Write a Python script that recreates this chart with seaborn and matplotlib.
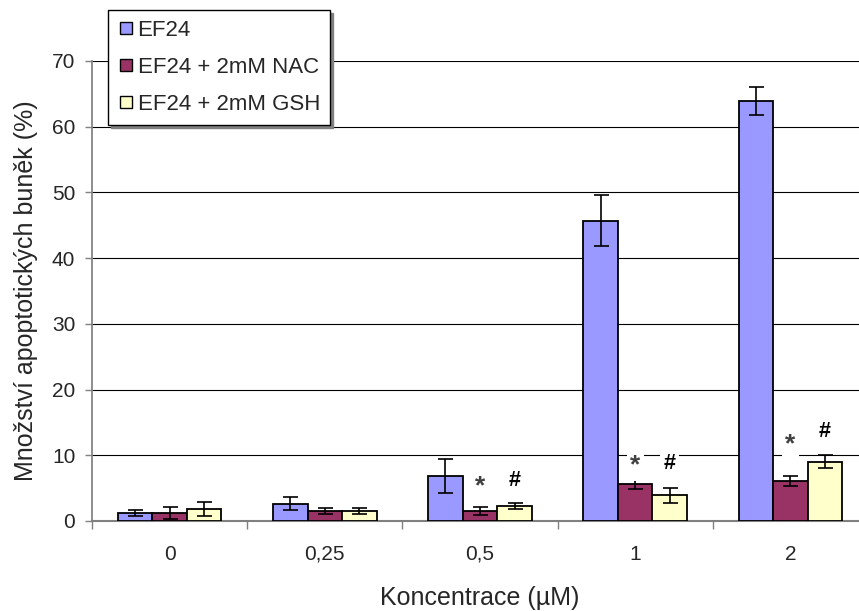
import matplotlib
matplotlib.use("Agg")
import matplotlib.pyplot as plt
import pandas as pd
import seaborn as sns
from matplotlib.lines import Line2D

# Concentrations and treatment groups
concentrations = ["0", "0,25", "0,5", "1", "2"]
treatments = ["EF24", "EF24 + 2mM NAC", "EF24 + 2mM GSH"]

# Mean share of apoptotic cells (%) and error (+/-)
ef24 = [1.2, 2.6, 6.9, 45.7, 63.9]
ef24_err = [0.5, 1.0, 2.6, 3.9, 2.1]
nac = [1.2, 1.5, 1.5, 5.6, 6.1]
nac_err = [0.9, 0.5, 0.6, 0.8, 0.8]
gsh = [1.8, 1.5, 2.3, 3.9, 9.0]
gsh_err = [1.1, 0.5, 0.4, 1.1, 1.0]

# Significance marks: concentration index and label height
mark_idx = [2, 3, 4]
star_y = [5.3, 8.5, 11.6]
hash_y = [6.1, 8.7, 13.6]

colors = ["#9999FF", "#993366", "#FFFFCC"]

sns.set_theme(style="white")
plt.rcParams["font.family"] = ["Liberation Sans", "DejaVu Sans"]

df = pd.DataFrame({
    "conc": concentrations * 3,
    "treatment": [t for t in treatments for _ in concentrations],
    "value": ef24 + nac + gsh,
})
errors = [ef24_err, nac_err, gsh_err]

fig = plt.figure(figsize=(8.59, 6.11), dpi=100)
ax = fig.add_axes([92 / 859, (611 - 521) / 611, 776 / 859, 460 / 611])

sns.barplot(data=df, x="conc", y="value", hue="treatment",
            order=concentrations, hue_order=treatments, palette=colors,
            width=0.667, errorbar=None, saturation=1, edgecolor="black",
            linewidth=1.3, legend=False, ax=ax, zorder=3)

centers = []
for cont, err in zip(ax.containers, errors):
    xs = [b.get_x() + b.get_width() / 2 for b in cont]
    hs = [b.get_height() for b in cont]
    centers.append(xs)
    ax.errorbar(xs, hs, yerr=err, fmt="none", ecolor="black",
                elinewidth=1.2, capsize=5.4, capthick=1.2, zorder=4)

box = dict(facecolor="white", edgecolor="none", pad=2.5)
for i, ys, yh in zip(mark_idx, star_y, hash_y):
    ax.text(centers[1][i], ys, "*", ha="center", va="center", fontsize=19,
            fontweight="bold", color="#404040", bbox=box, zorder=5)
    ax.text(centers[2][i], yh, "#", ha="center", va="center", fontsize=15.5,
            fontweight="bold", color="black", bbox=box, zorder=5)

ax.set_xlim(-0.5, 4.5)
ax.set_ylim(0, 70)
ax.set_yticks(range(0, 71, 10))
ax.yaxis.grid(True, color="black", linewidth=0.8)
ax.set_axisbelow(True)

ax.set_xticks(range(len(concentrations)))
ax.set_xticklabels(concentrations)
ax.set_xticks([k - 0.5 for k in range(len(concentrations))], minor=True)
ax.tick_params(axis="x", which="major", length=0, pad=17, labelsize=15)
ax.tick_params(axis="x", which="minor", length=6, width=1, color="#808080",
               direction="out", bottom=True)
ax.tick_params(axis="y", length=5, width=1, color="#808080", pad=7,
               labelsize=15, left=True)

for s in ("top", "right"):
    ax.spines[s].set_visible(False)
ax.spines["left"].set_color("#808080")
ax.spines["bottom"].set_color("#808080")
ax.spines["bottom"].set_linewidth(1.5)

ax.set_xlabel("Koncentrace (µM)", fontsize=18, labelpad=16)
ax.set_ylabel("Množství apoptotických buněk (%)", fontsize=18, labelpad=10)

handles = [Line2D([], [], marker="s", linestyle="none", markersize=8,
                  markerfacecolor=c, markeredgecolor="black",
                  markeredgewidth=1.0) for c in colors]
leg = ax.legend(handles, treatments, loc="upper left",
                bbox_to_anchor=(16 / 776, (521 - 10) / 460), borderaxespad=0,
                frameon=True, fancybox=False, edgecolor="black", framealpha=1,
                shadow={"color": "#808080", "alpha": 1}, fontsize=16,
                handlelength=0.7, handletextpad=0.18, labelspacing=0.72,
                borderpad=0.45)
leg.get_frame().set_linewidth(1.0)

fig.savefig("out.png", dpi=100)
